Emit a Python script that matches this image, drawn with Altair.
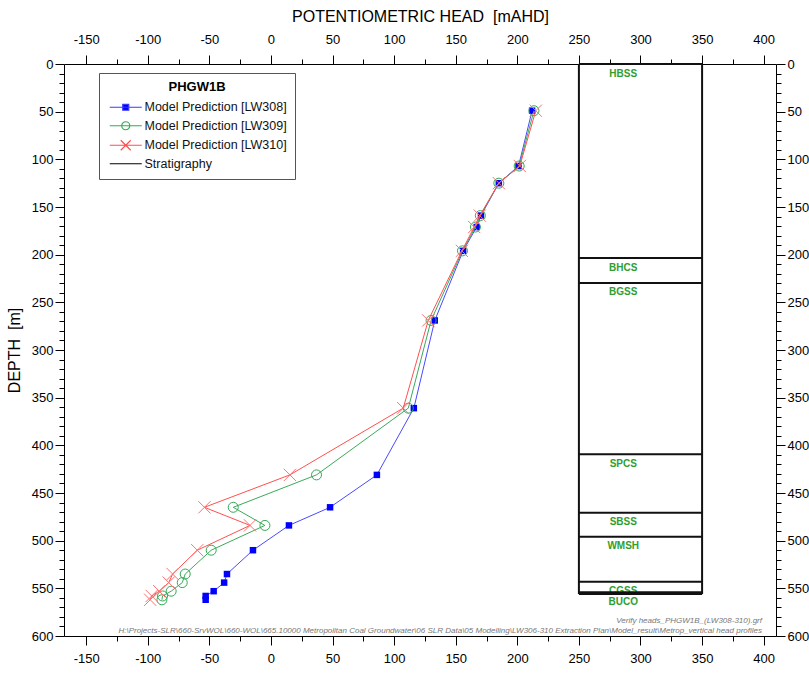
import altair as alt
import pandas as pd

# ---------------- data ----------------
DEPTH = [49, 107, 125, 159, 171, 196, 269, 361, 431, 465, 484, 510, 535, 544, 553, 558, 562]
LW308 = [212, 201, 185, 170.5, 167, 156, 133, 116, 86, 48, 14.6, -14.6, -35.7, -38, -46.5, -53, -53]
LW309 = [213.5, 201.5, 185, 170, 166, 155.5, 130, 111.5, 37, -30.6, -4.9, -48.5, -69.6, -72, -81, -88, -88.5]
LW310 = [215, 202, 185, 169.5, 165, 155, 127.7, 107.4, 15.4, -54, -17, -59.8, -79.8, -83, -90.7, -96.8, -98]

SERIES = ["Model Prediction [LW308]", "Model Prediction [LW309]",
          "Model Prediction [LW310]", "Stratigraphy"]

STRAT_NAMES = ["HBSS", "BHCS", "BGSS", "SPCS", "SBSS", "WMSH", "CGSS", "BUCO"]
STRAT_TOPS = [0, 203.5, 229.7, 409.4, 470.6, 495.8, 543, 554]
STRAT_BASE = 556

X_TICKS = list(range(-150, 401, 25))
Y_TICKS = list(range(0, 601, 10))

FOOT1 = "Verify heads_PHGW1B_(LW308-310).grf"
FOOT2 = (r"H:\Projects-SLR\660-SrvWOL\660-WOL\665.10000 Metropolitan Coal Groundwater"
         r"\06 SLR Data\05 Modelling\LW306-310 Extraction Plan\Model_result\Metrop_vertical head profiles")

# ---------------- layout / style constants ----------------
STRAT_X0, STRAT_X1 = 250, 350
STRAT_LABEL_X = 286
X_DOMAIN = [-168, 410]
Y_DOMAIN = [0, 600]
W, H = 712, 572

FONT = "Liberation Sans, Arial, sans-serif"
NARROW = "Liberation Sans Narrow, Liberation Sans, Arial, sans-serif"

BLUE_L, BLUE_M = "#4a4aff", "#0000ff"
GREEN_L, GREEN_M = "#3aaa5c", "#33aa55"
RED_L, RED_M = "#ff5050", "#ff7070"
STRAT_GREEN = "#2f9e2f"

xs = alt.Scale(domain=X_DOMAIN, nice=False, zero=False)
ys = alt.Scale(domain=Y_DOMAIN, nice=False, zero=False, reverse=True)

MAJOR = "datum.value % 50 === 0"
TICK_COND = {"condition": {"test": MAJOR, "value": 9}, "value": 5}
LABEL_EXPR = "datum.value % 50 === 0 ? '' + datum.value : ''"


def axis(orient, title, values, label_pad):
    kw = dict(orient=orient, values=values, labelExpr=LABEL_EXPR, tickSize=TICK_COND,
              tickColor="#000", domainColor="#000", tickWidth=1, domainWidth=1,
              labelFont=NARROW, labelFontSize=13, labelColor="#000", labelPadding=label_pad,
              labelOverlap=False, labelFlush=False, grid=False)
    if title:
        kw.update(title=title, titleFont=NARROW, titleFontSize=16, titleFontWeight="normal",
                  titleColor="#000", titlePadding=9)
    else:
        kw.update(title=None)
    return alt.Axis(**kw)


AX_TOP = axis("top", "POTENTIOMETRIC HEAD\u00a0 [mAHD]", X_TICKS, 9)
AX_LEFT = axis("left", "DEPTH\u00a0 [m]", Y_TICKS, 2)
AX_BOTTOM = axis("bottom", None, X_TICKS, 7)
AX_RIGHT = axis("right", None, Y_TICKS, 2)


def X(field):
    return alt.X(field, type="quantitative", scale=xs, axis=AX_TOP)


def Y(field):
    return alt.Y(field, type="quantitative", scale=ys, axis=AX_LEFT)


# ---------------- stratigraphy ----------------
strat_v = pd.DataFrame({"x": [STRAT_X0, STRAT_X1],
                        "top": [STRAT_TOPS[0]] * 2, "base": [STRAT_BASE] * 2})
strat_h = pd.DataFrame({"depth": STRAT_TOPS + [STRAT_BASE],
                        "x0": STRAT_X0, "x1": STRAT_X1})
strat_lab = pd.DataFrame({"name": STRAT_NAMES, "depth": STRAT_TOPS, "lx": STRAT_LABEL_X})

v_rules = alt.Chart(strat_v).mark_rule(color="#111", strokeWidth=2).encode(
    x=X("x"), y=Y("top"), y2="base:Q")

labels = alt.Chart(strat_lab).mark_text(
    color=STRAT_GREEN, font=FONT, fontSize=10, fontWeight="bold",
    align="center", baseline="middle", dy=9.5).encode(x=X("lx"), y=Y("depth"), text="name:N")

# ---------------- series ----------------
def sdf(vals):
    return pd.DataFrame({"depth": DEPTH, "head": vals})


def line(vals, color):
    return alt.Chart(sdf(vals)).mark_line(color=color, strokeWidth=1).encode(
        x=X("head"), y=Y("depth"), order="depth:Q")


XSHAPE = "M-1,-1L1,1M1,-1L-1,1"

pts308 = alt.Chart(sdf(LW308)).mark_point(shape="square", filled=True, size=42,
                                          color=BLUE_M, opacity=1).encode(x=X("head"), y=Y("depth"))
pts309 = alt.Chart(sdf(LW309)).mark_point(shape="circle", filled=False, size=100, strokeWidth=1,
                                          color=GREEN_M, opacity=1).encode(x=X("head"), y=Y("depth"))
pts310 = alt.Chart(sdf(LW310)).mark_point(shape=XSHAPE, filled=False, size=150, strokeWidth=1,
                                          color=RED_M, opacity=1).encode(x=X("head"), y=Y("depth"))

# ---------------- legend ----------------
SQ = "M-0.7,0L5.7,0M1.9,-0.6L3.1,-0.6L3.1,0.6L1.9,0.6Z"
CI = "M-0.7,0L5.7,0M3.3,0A0.8,0.8 0 1,1 1.7,0A0.8,0.8 0 1,1 3.3,0"
XX = "M-0.7,0L5.7,0M1.5,-1L3.5,1M3.5,-1L1.5,1"
LN = "M-0.7,0L5.7,0"

LEG = alt.Legend(title="PHGW1B", orient="none", legendX=35, legendY=9, direction="vertical",
                 titleFont=FONT, titleFontSize=13, titleFontWeight="bold", titleColor="#000",
                 titleAnchor="middle", titleAlign="center", titlePadding=7,
                 labelFont=FONT, labelFontSize=12.5, labelColor="#111", labelOffset=25, labelLimit=400,
                 symbolSize=100, symbolStrokeWidth=1.2, symbolOpacity=1,
                 rowPadding=4.5, padding=8, strokeColor="#555", fillColor="white")

leg_df = pd.DataFrame({"series": SERIES})
legend_layer = alt.Chart(leg_df).mark_point(opacity=0, filled=True).encode(
    stroke=alt.Stroke("series:N", scale=alt.Scale(domain=SERIES,
                      range=["#3a3aff", GREEN_M, RED_L, "#000000"]), legend=LEG),
    fill=alt.Fill("series:N", scale=alt.Scale(domain=SERIES,
                  range=[BLUE_M, "transparent", "transparent", "transparent"]), legend=LEG),
    shape=alt.Shape("series:N", scale=alt.Scale(domain=SERIES, range=[SQ, CI, XX, LN]), legend=LEG),
)

# ---------------- footer text ----------------
foot1 = alt.Chart(pd.DataFrame({"t": [FOOT1]})).mark_text(
    font=FONT, fontSize=8, fontStyle="italic", color="#777", align="right", baseline="middle").encode(
    text="t:N", x=alt.value(698), y=alt.value(557))
foot2 = alt.Chart(pd.DataFrame({"t": [FOOT2]})).mark_text(
    font=FONT, fontSize=8, fontStyle="italic", color="#777", align="right", baseline="middle").encode(
    text="t:N", x=alt.value(698), y=alt.value(567))

main = alt.layer(v_rules, labels,
                 line(LW308, BLUE_L), pts308,
                 line(LW309, GREEN_L), pts309,
                 line(LW310, RED_L), pts310,
                 legend_layer, foot1, foot2)

# second layer carries the bottom / right axes
h_rules = alt.Chart(strat_h).mark_rule(color="#111", strokeWidth=2).encode(
    x=alt.X("x0:Q", scale=xs, axis=AX_BOTTOM), x2="x1:Q",
    y=alt.Y("depth:Q", scale=ys, axis=AX_RIGHT))

chart = alt.layer(main, h_rules).resolve_scale(x="independent", y="independent").properties(
    width=W, height=H, autosize="none",
    padding={"left": 64, "top": 64, "right": 33, "bottom": 39},
    background="white",
).configure_view(strokeWidth=0)

chart.save("out.html", embed_options={"renderer": "svg", "actions": False})
